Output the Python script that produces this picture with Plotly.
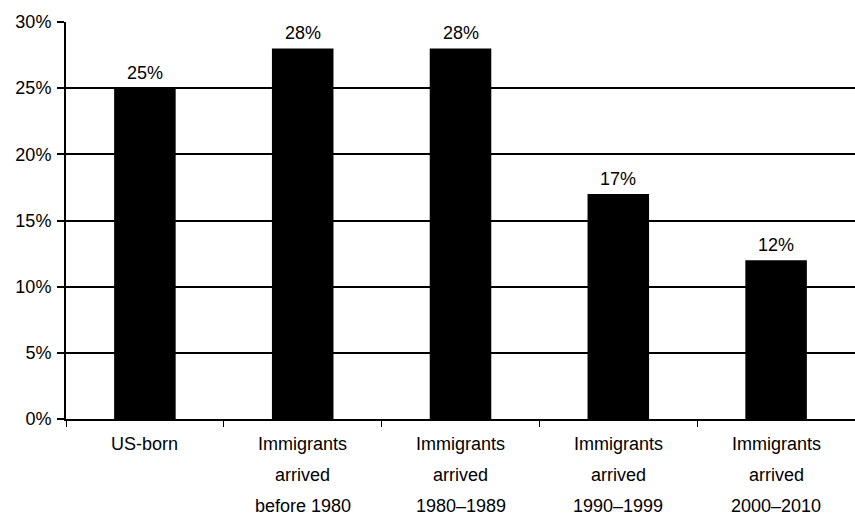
import plotly.graph_objects as go

# Share of each group, percent
groups = ["US-born", "Immigrants arrived before 1980", "Immigrants arrived 1980–1989",
          "Immigrants arrived 1990–1999", "Immigrants arrived 2000–2010"]
label_lines = [
    ["US-born"],
    ["Immigrants", "arrived", "before 1980"],
    ["Immigrants", "arrived", "1980–1989"],
    ["Immigrants", "arrived", "1990–1999"],
    ["Immigrants", "arrived", "2000–2010"],
]
values = [25, 28, 28, 17, 12]
y_ticks = [0, 5, 10, 15, 20, 25, 30]

FONT = "Liberation Sans, Arial, sans-serif"
SIZE = 18

fig = go.Figure(
    go.Bar(
        x=groups,
        y=values,
        marker=dict(color="#000000", line=dict(width=0)),
        width=0.39,
        cliponaxis=False,
    )
)

annotations = []
# Value labels above each bar
for g, v in zip(groups, values):
    annotations.append(dict(
        x=g, y=v, xref="x", yref="y",
        text=f"{v}%", showarrow=False,
        yanchor="bottom", yshift=3,
        font=dict(family=FONT, size=SIZE, color="#000000"),
    ))

# Category labels, one annotation per line for wide line spacing
for g, lines in zip(groups, label_lines):
    for i, line in enumerate(lines):
        annotations.append(dict(
            x=g, y=0, xref="x", yref="y",
            text=line, showarrow=False,
            yanchor="middle", yshift=-25 - 31 * i,
            font=dict(family=FONT, size=SIZE, color="#000000"),
        ))

fig.update_layout(
    width=855, height=517,
    margin=dict(l=66, r=0, t=22, b=98),
    paper_bgcolor="white", plot_bgcolor="white",
    showlegend=False,
    annotations=annotations,
    font=dict(family=FONT, size=SIZE, color="#000000"),
    xaxis=dict(
        showticklabels=False,
        tickson="boundaries", ticks="outside", ticklen=6, tickcolor="#000000",
        showline=True, linecolor="#000000", linewidth=2,
        showgrid=False,
    ),
    yaxis=dict(
        range=[0, 30],
        tickvals=y_ticks,
        ticktext=[f"{t}%" for t in y_ticks],
        ticks="outside", ticklen=7, tickcolor="#000000", tickwidth=1.5,
        ticklabelstandoff=2,
        showline=True, linecolor="#000000", linewidth=2,
        showgrid=True, gridcolor="#000000", gridwidth=1.5,
        zeroline=False,
        tickfont=dict(family=FONT, size=SIZE, color="#000000"),
    ),
)

fig.write_html("out.html")
